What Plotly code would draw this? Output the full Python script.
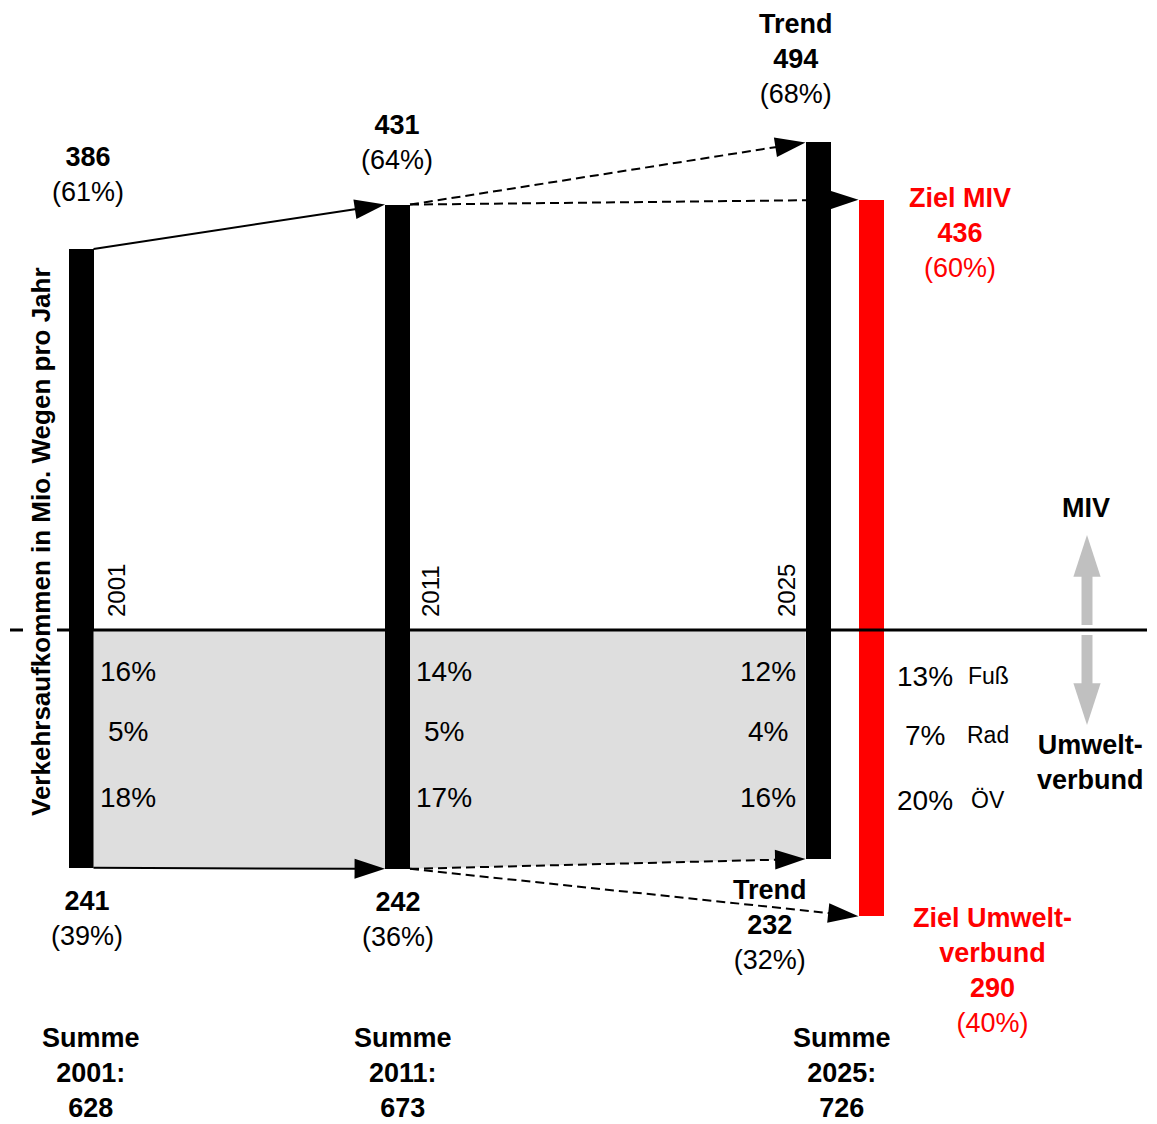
import plotly.graph_objects as go

# ---------------- data ----------------
bar_names = ["2001", "2011", "2025 Trend", "2025 Ziel"]
miv = [386, 431, 494, 436]
umweltverbund = [241, 242, 232, 290]
miv_share = [61, 64, 68, 60]
umwelt_share = [39, 36, 32, 40]
fuss_share = [16, 14, 12, 13]
rad_share = [5, 5, 4, 7]
oev_share = [18, 17, 16, 20]
mode_names = ["Fuß", "Rad", "ÖV"]
sum_years = ["2001", "2011", "2025"]
sum_totals = [628, 673, 726]
year_labels = ["2001", "2011", "2025"]

# ---------------- layout constants ----------------
W, H = 1157, 1124
ZERO_PX = 630
PX_PER_UNIT = 0.987
BAR_X = [81, 397.5, 818, 871]
BAR_W = 25
BAR_COLORS = ["black", "black", "black", "#ff0000"]
RED = "#ff0000"
GREY_FILL = "#dedede"
GREY_ARROW = "#c0c0c0"
FONT = "Liberation Sans, Arial, Helvetica, sans-serif"
BIG = 27
PCT = 28


def u(px):
    """pixel distance -> data units on the y axis"""
    return px / PX_PER_UNIT


def edge(i, side):
    return BAR_X[i] + side * BAR_W / 2


fig = go.Figure()

# grey areas between the columns (Umweltverbund)
for i, j in [(0, 1), (1, 2)]:
    fig.add_trace(go.Scatter(
        x=[edge(i, 1), edge(j, -1), edge(j, -1), edge(i, 1)],
        y=[0, 0, -umweltverbund[j], -umweltverbund[i]],
        mode="lines", fill="toself", fillcolor=GREY_FILL,
        line=dict(width=0), hoverinfo="skip", showlegend=False))

# bars
fig.add_trace(go.Bar(x=BAR_X, y=miv, width=BAR_W, marker_color=BAR_COLORS,
                     marker_line_width=0, name="MIV", showlegend=False))
fig.add_trace(go.Bar(x=BAR_X, y=[-v for v in umweltverbund], width=BAR_W,
                     marker_color=BAR_COLORS, marker_line_width=0,
                     name="Umweltverbund", showlegend=False))

# arrows between columns
links = [(0, 1, "solid"), (1, 2, "dash"), (1, 3, "dash")]
for series, sign in [(miv, 1), (umweltverbund, -1)]:
    for i, j, dash in links:
        fig.add_trace(go.Scatter(
            x=[edge(i, 1), edge(j, -1)],
            y=[sign * series[i], sign * series[j]],
            mode="lines+markers",
            line=dict(color="black", width=2,
                      dash="solid" if dash == "solid" else "9px,5px"),
            marker=dict(symbol="arrow", size=[0, 32], angleref="previous",
                        color="black", opacity=1, line=dict(width=0)),
            hoverinfo="skip", showlegend=False))

# grey double arrow (MIV up / Umweltverbund down)
for sign in (1, -1):
    fig.add_trace(go.Scatter(
        x=[1087, 1087], y=[sign * u(5), sign * u(95)],
        mode="lines+markers",
        line=dict(color=GREY_ARROW, width=11),
        marker=dict(symbol="arrow", size=[0, 44], angleref="previous",
                    color=GREY_ARROW, opacity=1, line=dict(width=0)),
        hoverinfo="skip", showlegend=False))

anns = []


def ann(text, x, y, yshift=0, size=BIG, color="black", yref="y",
        xanchor="center", yanchor="middle", textangle=0):
    anns.append(dict(text=text, x=x, y=y, xref="x", yref=yref, yshift=yshift,
                     showarrow=False, xanchor=xanchor, yanchor=yanchor,
                     textangle=textangle,
                     font=dict(family=FONT, size=size, color=color)))


# value labels, MIV
ann(f"<b>{miv[0]}</b><br>({miv_share[0]}%)", 88, miv[0], yshift=75)
ann(f"<b>{miv[1]}</b><br>({miv_share[1]}%)", 397, miv[1], yshift=62)
ann(f"<b>Trend</b><br><b>{miv[2]}</b><br>({miv_share[2]}%)", 796, miv[2], yshift=83)
ann(f"<b>Ziel MIV</b><br><b>{miv[3]}</b><br>({miv_share[3]}%)", 960, miv[3],
    yshift=-33, color=RED)

# value labels, Umweltverbund
ann(f"<b>{umweltverbund[0]}</b><br>({umwelt_share[0]}%)", 87, -umweltverbund[0], yshift=-51)
ann(f"<b>{umweltverbund[1]}</b><br>({umwelt_share[1]}%)", 398, -umweltverbund[1], yshift=-51)
ann(f"<b>Trend</b><br><b>{umweltverbund[2]}</b><br>({umwelt_share[2]}%)", 770,
    -umweltverbund[2], yshift=-66)
ann(f"<b>Ziel Umwelt-</b><br><b>verbund</b><br><b>{umweltverbund[3]}</b><br>({umwelt_share[3]}%)",
    992, -umweltverbund[3], yshift=-54, color=RED)

# mode shares
row_shift = [-41, -101, -167]
for k, xc in enumerate([128, 444, 768]):
    for r, vals in enumerate([fuss_share, rad_share, oev_share]):
        ann(f"{vals[k]}%", xc, 0, yshift=row_shift[r], size=PCT)
row_shift_z = [-46, -105, -170]
for r, vals in enumerate([fuss_share, rad_share, oev_share]):
    ann(f"{vals[3]}%", 925, 0, yshift=row_shift_z[r], size=PCT)
    ann(mode_names[r], 988, 0, yshift=row_shift_z[r], size=23)

# year labels (rotated)
for lbl, xc in zip(year_labels, [116, 430, 786]):
    ann(lbl, xc, 0, yshift=39, size=24, textangle=-90)

# sums
for yr, tot, xc in zip(sum_years, sum_totals, [91, 403, 842]):
    ann(f"<b>Summe</b><br><b>{yr}:</b><br><b>{tot}</b>", xc, 1 - 1073 / H, yref="paper")

# right-side legend text
ann("<b>MIV</b>", 1086, 0, yshift=122)
ann("<b>Umwelt-</b><br><b>verbund</b>", 1090, 0, yshift=-132)

# y axis title
ann("<b>Verkehrsaufkommen in Mio. Wegen pro Jahr</b>", 41, 1 - 542 / H,
    yref="paper", size=26, textangle=-90)

shapes = [
    dict(type="line", x0=57, x1=1147, y0=0, y1=0, xref="x", yref="y",
         line=dict(color="black", width=3), layer="above"),
    dict(type="line", x0=10, x1=23, y0=0, y1=0, xref="x", yref="y",
         line=dict(color="black", width=3), layer="above"),
]

fig.update_layout(
    width=W, height=H, autosize=False,
    margin=dict(l=0, r=0, t=0, b=0),
    plot_bgcolor="white", paper_bgcolor="white",
    barmode="relative", bargap=0,
    showlegend=False,
    xaxis=dict(range=[0, W], visible=False, fixedrange=True),
    yaxis=dict(range=[-u(H - ZERO_PX), u(ZERO_PX)], visible=False, fixedrange=True),
    annotations=anns, shapes=shapes,
    font=dict(family=FONT),
)

fig.write_html("out.html")
